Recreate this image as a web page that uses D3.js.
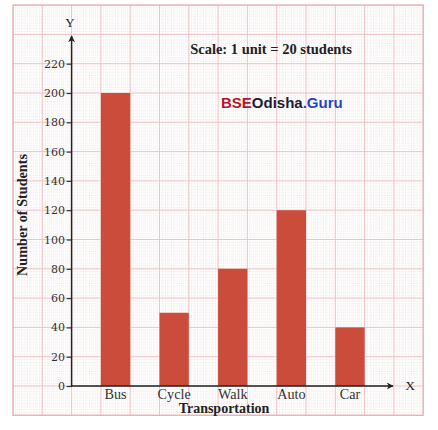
<!DOCTYPE html>
<html>
<head>
<meta charset="utf-8">
<script src="https://cdn.jsdelivr.net/npm/d3@7"></script>
<style>
  body { margin: 0; background: #fff; }
  svg { display: block; }
</style>
</head>
<body>
<svg id="chart" width="438" height="430"></svg>
<script>
// data
const modes = ["Bus", "Cycle", "Walk", "Auto", "Car"]
const students = [200, 50, 80, 120, 40]
const yTicks = [0, 20, 40, 60, 80, 100, 120, 140, 160, 180, 200, 220]

const svg = d3.select('#chart')
const cell = 29.3          // one big square on the graph paper
const x0 = 71.6, y0 = 386  // origin

const y = d3.scaleLinear().domain([0, 220]).range([y0, y0 - 11 * cell])
const x = d3.scaleBand().domain(modes)
  .range([x0, x0 + 11 * cell])
  .paddingInner(0.5)
  .paddingOuter(0.5)

const serif = "'Liberation Serif', 'DejaVu Serif', serif"
const wideSerif = "'DejaVu Serif', serif"

// graph paper
const paper = svg.append('g')
const paperLeft = x0 - 2 * cell, paperRight = x0 + 12 * cell
const paperTop = y0 - 13 * cell, paperBottom = y0 + cell

paper.append('rect')
  .attr('x', paperLeft).attr('y', paperTop)
  .attr('width', paperRight - paperLeft).attr('height', paperBottom - paperTop)
  .attr('fill', '#fffdfd')

// small squares
const minor = d3.range(0, 141)
paper.selectAll('.vmin').data(minor).join('line')
  .attr('x1', d => paperLeft + d * cell / 10).attr('x2', d => paperLeft + d * cell / 10)
  .attr('y1', paperTop).attr('y2', paperBottom)
  .attr('stroke', '#f1d9d9').attr('stroke-width', 0.45)
  .attr('stroke-dasharray', '1,1')
paper.selectAll('.hmin').data(minor).join('line')
  .attr('y1', d => paperTop + d * cell / 10).attr('y2', d => paperTop + d * cell / 10)
  .attr('x1', paperLeft).attr('x2', paperRight)
  .attr('stroke', '#f1d9d9').attr('stroke-width', 0.45)
  .attr('stroke-dasharray', '1,1')

// big squares
const major = d3.range(0, 15)
paper.selectAll('.vmaj').data(major).join('line')
  .attr('x1', d => paperLeft + d * cell).attr('x2', d => paperLeft + d * cell)
  .attr('y1', paperTop).attr('y2', paperBottom)
  .attr('stroke', '#f0bdbd').attr('stroke-width', 0.9)
paper.selectAll('.hmaj').data(major).join('line')
  .attr('y1', d => paperTop + d * cell).attr('y2', d => paperTop + d * cell)
  .attr('x1', paperLeft).attr('x2', paperRight)
  .attr('stroke', '#f0bdbd').attr('stroke-width', 0.9)

paper.append('rect')
  .attr('x', paperLeft).attr('y', paperTop)
  .attr('width', paperRight - paperLeft).attr('height', paperBottom - paperTop)
  .attr('fill', 'none').attr('stroke', '#e9b0b0').attr('stroke-width', 1.2)

// bars
svg.append('g').selectAll('rect').data(modes).join('rect')
  .attr('x', d => x(d))
  .attr('y', (d, i) => y(students[i]))
  .attr('width', x.bandwidth())
  .attr('height', (d, i) => y0 - y(students[i]))
  .attr('fill', '#cb4c3b')

// arrow head
svg.append('defs').append('marker')
  .attr('id', 'arrow')
  .attr('viewBox', '0 0 10 10')
  .attr('refX', 9).attr('refY', 5)
  .attr('markerWidth', 7).attr('markerHeight', 7)
  .attr('markerUnits', 'userSpaceOnUse')
  .attr('orient', 'auto')
  .append('path').attr('d', 'M0,0 L10,5 L0,10 L3,5 Z').attr('fill', '#222')

// y axis
const yAxis = svg.append('g')
  .attr('transform', `translate(${x0},0)`)
  .call(d3.axisLeft(y).tickValues(yTicks).tickSize(5).tickPadding(1.5))
yAxis.select('.domain').remove()
yAxis.selectAll('.tick line').attr('stroke', '#333').attr('stroke-width', 1.2)
yAxis.selectAll('text')
  .attr('font-family', wideSerif).attr('font-size', 11).attr('fill', '#333')

svg.append('line')
  .attr('x1', x0).attr('y1', y0 + 0.5).attr('x2', x0).attr('y2', 36)
  .attr('stroke', '#222').attr('stroke-width', 1.5)
  .attr('marker-end', 'url(#arrow)')

// x axis
const xAxis = svg.append('g')
  .attr('transform', `translate(0,${y0})`)
  .call(d3.axisBottom(x).tickSize(0).tickPadding(0))
xAxis.select('.domain').remove()
xAxis.selectAll('text')
  .attr('dy', null).attr('y', 12.5)
  .attr('font-family', serif).attr('font-size', 14.2).attr('fill', '#333')

svg.append('line')
  .attr('x1', x0 - 0.75).attr('y1', y0).attr('x2', 393).attr('y2', y0)
  .attr('stroke', '#222').attr('stroke-width', 1.5)
  .attr('marker-end', 'url(#arrow)')

// axis letters
svg.append('text').attr('x', 70).attr('y', 27)
  .attr('text-anchor', 'middle').attr('font-family', serif).attr('font-size', 13)
  .attr('fill', '#222').text('Y')
svg.append('text').attr('x', 410).attr('y', 390)
  .attr('text-anchor', 'middle').attr('font-family', serif).attr('font-size', 13.5)
  .attr('fill', '#222').text('X')

// titles
svg.append('text')
  .attr('x', 224).attr('y', 413)
  .attr('text-anchor', 'middle')
  .attr('font-family', serif).attr('font-weight', 'bold').attr('font-size', 14)
  .attr('fill', '#222')
  .text('Transportation')

svg.append('text')
  .attr('transform', 'translate(27,215) rotate(-90)')
  .attr('text-anchor', 'middle')
  .attr('font-family', serif).attr('font-weight', 'bold').attr('font-size', 14.2)
  .attr('fill', '#222')
  .text('Number of Students')

svg.append('text')
  .attr('x', 271).attr('y', 54)
  .attr('text-anchor', 'middle')
  .attr('font-family', serif).attr('font-weight', 'bold').attr('font-size', 14.5)
  .attr('fill', '#222')
  .text('Scale: 1 unit = 20 students')

// watermark
const mark = svg.append('text')
  .attr('x', 221).attr('y', 108)
  .attr('font-family', "'Liberation Sans', Arial, sans-serif")
  .attr('font-weight', 'bold').attr('font-size', 15)
mark.append('tspan').attr('fill', '#b3152c').text('BSE')
mark.append('tspan').attr('fill', '#1b1b3a').text('Odisha')
mark.append('tspan').attr('fill', '#1f45c4').text('.Guru')
</script>
</body>
</html>
